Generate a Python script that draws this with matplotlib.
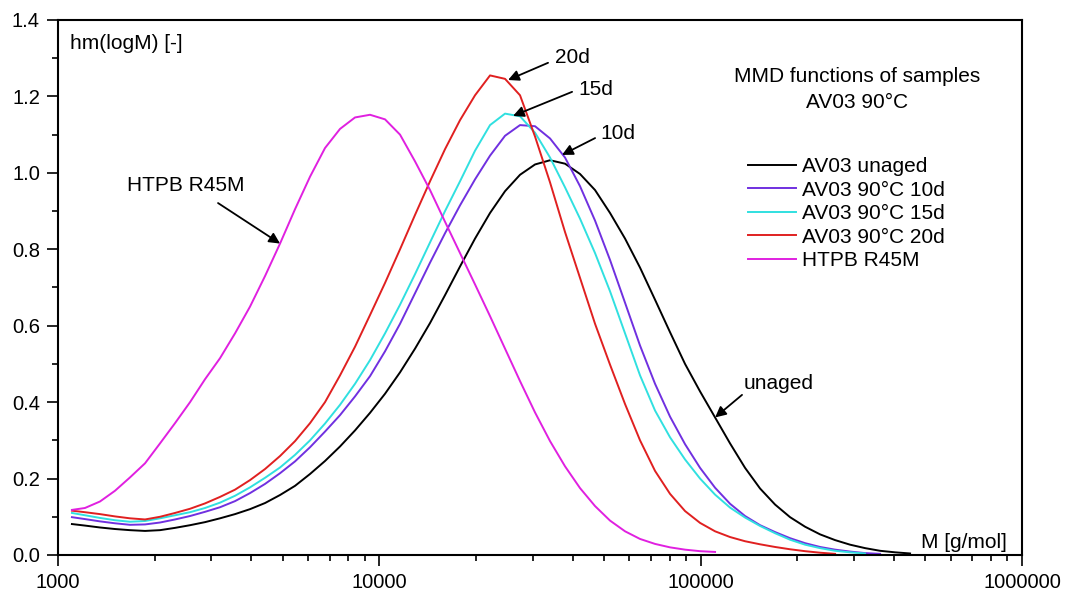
import matplotlib
matplotlib.use("Agg")
import matplotlib.pyplot as plt
from matplotlib.ticker import FixedLocator, LogLocator, NullFormatter, MultipleLocator, FuncFormatter

plt.rcParams['font.family'] = ['Liberation Sans', 'DejaVu Sans']

# molar mass grid [g/mol] the distributions were read at
M = [1105, 1213, 1351, 1504, 1675, 1866, 2077, 2313, 2576, 2868,
     3193, 3556, 3959, 4409, 4909, 5466, 6086, 6776, 7545, 8401,
     9355, 10417, 11599, 12915, 14381, 16012, 17830, 19853, 22106, 24613,
     27407, 30518, 33981, 37837, 42130, 46912, 52234, 58164, 64762, 72113,
     80293, 89406, 99571, 110867, 123443, 137458, 153053, 170433, 189760, 211305,
     235270, 261983, 291704, 324826, 361675, 402735, 448410]

# hm(logM) values for each sample (series stop where the trace ends)
h_unaged = [0.081, 0.077, 0.072, 0.068, 0.065, 0.063, 0.065, 0.071, 0.078, 0.086,
            0.096, 0.107, 0.120, 0.136, 0.157, 0.181, 0.212, 0.246, 0.284, 0.326,
            0.372, 0.422, 0.478, 0.540, 0.607, 0.680, 0.755, 0.828, 0.895, 0.952,
            0.995, 1.022, 1.033, 1.024, 0.997, 0.955, 0.895, 0.828, 0.752, 0.668,
            0.583, 0.500, 0.428, 0.360, 0.292, 0.228, 0.174, 0.132, 0.099, 0.074,
            0.054, 0.039, 0.027, 0.018, 0.011, 0.007, 0.004]

h_10d = [0.099, 0.094, 0.088, 0.083, 0.079, 0.080, 0.085, 0.093, 0.102, 0.113,
         0.125, 0.141, 0.162, 0.186, 0.214, 0.245, 0.282, 0.323, 0.366, 0.415,
         0.468, 0.533, 0.605, 0.685, 0.765, 0.842, 0.915, 0.983, 1.045, 1.097,
         1.125, 1.122, 1.090, 1.040, 0.965, 0.875, 0.772, 0.660, 0.548, 0.448,
         0.362, 0.290, 0.228, 0.176, 0.134, 0.102, 0.078, 0.060, 0.044, 0.031,
         0.021, 0.014, 0.009, 0.005, 0.003]

h_15d = [0.110, 0.104, 0.097, 0.091, 0.087, 0.089, 0.096, 0.104, 0.112, 0.123,
         0.137, 0.155, 0.177, 0.202, 0.229, 0.262, 0.300, 0.344, 0.393, 0.448,
         0.510, 0.580, 0.655, 0.735, 0.818, 0.900, 0.978, 1.058, 1.125, 1.155,
         1.148, 1.105, 1.040, 0.962, 0.880, 0.790, 0.690, 0.580, 0.470, 0.378,
         0.308, 0.250, 0.200, 0.158, 0.124, 0.098, 0.076, 0.057, 0.040, 0.027,
         0.018, 0.011, 0.007, 0.004]

h_20d = [0.116, 0.112, 0.107, 0.101, 0.096, 0.093, 0.100, 0.110, 0.121, 0.135,
         0.152, 0.171, 0.196, 0.225, 0.259, 0.298, 0.345, 0.400, 0.470, 0.545,
         0.628, 0.712, 0.800, 0.890, 0.978, 1.062, 1.138, 1.203, 1.255, 1.246,
         1.203, 1.095, 0.975, 0.845, 0.725, 0.605, 0.498, 0.395, 0.300, 0.220,
         0.160, 0.115, 0.084, 0.062, 0.047, 0.036, 0.028, 0.021, 0.015, 0.010,
         0.006, 0.003]

h_htpb = [0.118, 0.123, 0.140, 0.168, 0.203, 0.240, 0.292, 0.345, 0.400, 0.460,
          0.515, 0.580, 0.650, 0.730, 0.815, 0.905, 0.990, 1.065, 1.115, 1.145,
          1.152, 1.140, 1.100, 1.030, 0.955, 0.872, 0.790, 0.708, 0.625, 0.540,
          0.455, 0.373, 0.298, 0.232, 0.175, 0.128, 0.090, 0.062, 0.042, 0.029,
          0.020, 0.014, 0.010, 0.008]

labels = ["AV03 unaged", "AV03 90°C 10d", "AV03 90°C 15d", "AV03 90°C 20d", "HTPB R45M"]
colors = ["black", "#7030e0", "#30e0e0", "#e02020", "#e020e0"]

fig = plt.figure(figsize=(10.71, 5.94), dpi=100)
ax = fig.add_axes([58 / 1071, 39 / 594, 964 / 1071, 535 / 594])

for h, lab, c in zip([h_unaged, h_10d, h_15d, h_20d, h_htpb], labels, colors):
    ax.plot(M[:len(h)], h, color=c, lw=1.4, label=lab)

ax.set_xscale("log")
ax.set_xlim(1000, 1000000)
ax.set_ylim(0, 1.4)

ax.xaxis.set_major_locator(FixedLocator([1000, 10000, 100000, 1000000]))
ax.xaxis.set_major_formatter(FuncFormatter(lambda v, p: "%d" % round(v)))
ax.xaxis.set_minor_locator(LogLocator(base=10, subs=range(2, 10)))
ax.xaxis.set_minor_formatter(NullFormatter())
ax.yaxis.set_major_locator(MultipleLocator(0.2))
ax.yaxis.set_minor_locator(MultipleLocator(0.1))
ax.yaxis.set_major_formatter(FuncFormatter(lambda v, p: "%.1f" % v))

for s in ax.spines.values():
    s.set_linewidth(1.5)
ax.tick_params(which="major", direction="out", length=8, width=1.2, labelsize=14.5, pad=5)
ax.tick_params(which="minor", direction="out", length=4, width=1.2)

ax.text(0.0124, 0.957, "hm(logM) [-]", transform=ax.transAxes, fontsize=15, va="center")
ax.text(0.984, 0.024, "M [g/mol]", transform=ax.transAxes, fontsize=15, ha="right", va="center")
ax.text(0.829, 0.895, "MMD functions of samples", transform=ax.transAxes, fontsize=15,
        ha="center", va="center")
ax.text(0.829, 0.845, "AV03 90°C", transform=ax.transAxes, fontsize=15, ha="center", va="center")

ax.legend(loc="upper left", bbox_to_anchor=(0.716, 0.744), frameon=False, fontsize=15,
          handlelength=2.3, handletextpad=0.3, labelspacing=0.22, borderaxespad=0, borderpad=0)

# labels with arrows pointing at the curves
notes = [("20d", (35230, 1.303), (33500, 1.288), (25160, 1.243)),
         ("15d", (41530, 1.217), (39800, 1.212), (26070, 1.149)),
         ("10d", (48630, 1.104), (46930, 1.091), (37030, 1.047)),
         ("unaged", (136500, 0.450), (134500, 0.419), (110900, 0.360)),
         ("HTPB R45M", (1640, 0.966), (3148, 0.921), (4909, 0.815))]
arrow = dict(arrowstyle="-|>", color="black", lw=1.3, mutation_scale=16, shrinkA=0, shrinkB=0)
for txt, pos, tail, tip in notes:
    ax.text(pos[0], pos[1], txt, fontsize=15, va="center")
    ax.annotate("", xy=tip, xytext=tail, arrowprops=arrow)

fig.savefig("out.png", dpi=100)
